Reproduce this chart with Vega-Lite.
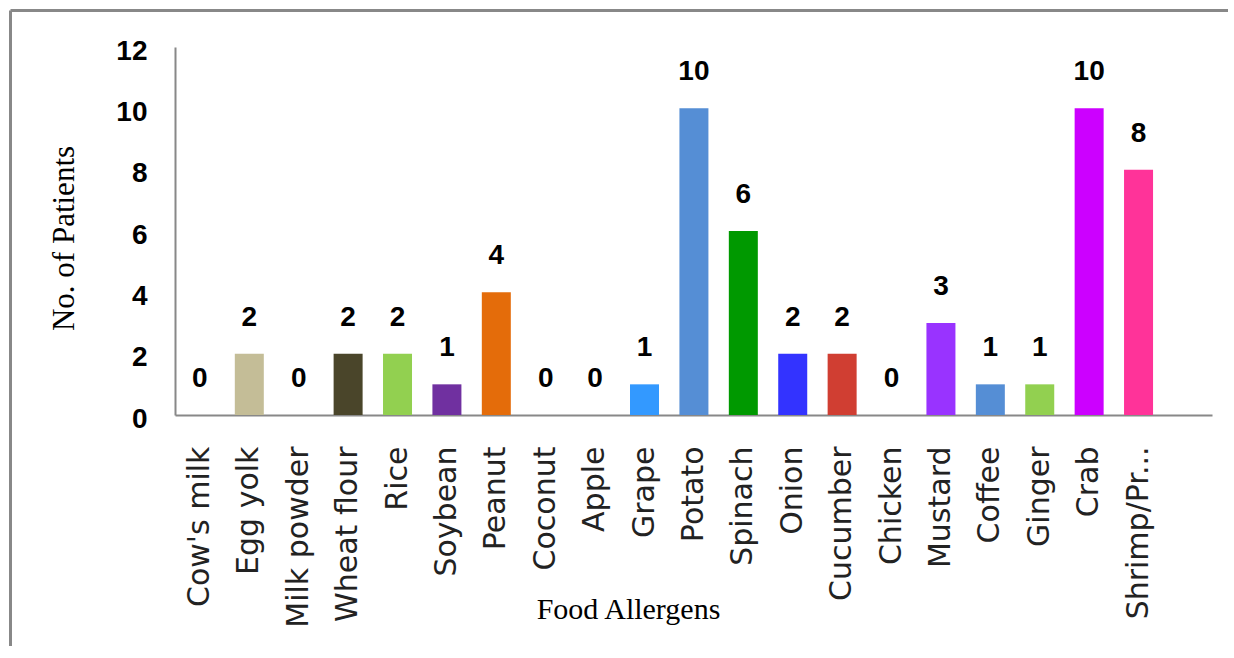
{
  "$schema": "https://vega.github.io/schema/vega-lite/v6.json",
  "width": 1218,
  "height": 636,
  "autosize": "none",
  "padding": {"left": 10, "top": 10, "right": 0, "bottom": 0},
  "background": "white",
  "config": {"view": {"stroke": null}},
  "resolve": {
    "scale": {"x": "independent", "y": "independent", "color": "independent"},
    "axis": {"x": "independent", "y": "independent"}
  },
  "layer": [
    {
      "data": {"values": [{"edge": 0}]},
      "mark": {"type": "point", "opacity": 0},
      "encoding": {
        "x": {
          "field": "edge",
          "type": "quantitative",
          "scale": {"domain": [0, 1], "range": [0, 1218]},
          "axis": {"orient": "top", "labels": false, "ticks": false, "grid": false, "title": null, "domainColor": "#888888", "domainWidth": 3}
        },
        "y": {
          "field": "edge",
          "type": "quantitative",
          "scale": {"domain": [0, 1], "range": [0, 636]},
          "axis": {"orient": "left", "labels": false, "ticks": false, "grid": false, "title": null, "domainColor": "#888888", "domainWidth": 3}
        }
      }
    },
    {
      "data": {
        "values": [
          {"food": "Cow's milk", "patients": 0},
          {"food": "Egg yolk", "patients": 2},
          {"food": "Milk powder", "patients": 0},
          {"food": "Wheat flour", "patients": 2},
          {"food": "Rice", "patients": 2},
          {"food": "Soybean", "patients": 1},
          {"food": "Peanut", "patients": 4},
          {"food": "Coconut", "patients": 0},
          {"food": "Apple", "patients": 0},
          {"food": "Grape", "patients": 1},
          {"food": "Potato", "patients": 10},
          {"food": "Spinach", "patients": 6},
          {"food": "Onion", "patients": 2},
          {"food": "Cucumber", "patients": 2},
          {"food": "Chicken", "patients": 0},
          {"food": "Mustard", "patients": 3},
          {"food": "Coffee", "patients": 1},
          {"food": "Ginger", "patients": 1},
          {"food": "Crab", "patients": 10},
          {"food": "Shrimp/Prawn", "patients": 8}
        ]
      },
      "encoding": {
        "x": {
          "field": "food",
          "type": "nominal",
          "sort": null,
          "scale": {"range": [165, 1202], "paddingInner": 0.413, "paddingOuter": 0.702, "align": 0.15},
          "axis": {
            "orient": "bottom",
            "offset": -231,
            "title": "Food Allergens",
            "titleFont": "Liberation Serif",
            "titleFontSize": 30,
            "titleFontWeight": "normal",
            "titleColor": "#000000",
            "titleAlign": "center",
            "titleBaseline": "alphabetic",
            "titleX": 618,
            "titleY": 203,
            "labelAngle": -90,
            "labelFont": "DejaVu Sans",
            "labelFontSize": 30,
            "labelColor": "#222222",
            "labelPadding": 31,
            "labelLimit": 400,
            "labelExpr": "datum.value == 'Shrimp/Prawn' ? 'Shrimp/Pr...' : datum.value",
            "ticks": false,
            "grid": false,
            "domainColor": "#888888",
            "domainWidth": 2
          }
        },
        "y": {
          "field": "patients",
          "type": "quantitative",
          "scale": {"domain": [0, 12], "range": [405, 37], "nice": false},
          "axis": {
            "orient": "left",
            "offset": -165,
            "values": [0, 2, 4, 6, 8, 10, 12],
            "title": "No. of Patients",
            "titleFont": "Liberation Serif",
            "titleFontSize": 31,
            "titleFontWeight": "normal",
            "titleColor": "#000000",
            "titleAngle": -90,
            "titleAlign": "center",
            "titleBaseline": "middle",
            "titleX": -111,
            "titleY": 228,
            "labelFont": "Liberation Sans",
            "labelFontSize": 28,
            "labelFontWeight": "bold",
            "labelColor": "#000000",
            "labelPadding": 28,
            "labelOffset": 4,
            "ticks": false,
            "grid": false,
            "domainColor": "#888888",
            "domainWidth": 2
          }
        }
      },
      "layer": [
        {
          "mark": {"type": "bar"},
          "encoding": {
            "color": {
              "field": "food",
              "type": "nominal",
              "legend": null,
              "scale": {
                "domain": ["Cow's milk", "Egg yolk", "Milk powder", "Wheat flour", "Rice", "Soybean", "Peanut", "Coconut", "Apple", "Grape", "Potato", "Spinach", "Onion", "Cucumber", "Chicken", "Mustard", "Coffee", "Ginger", "Crab", "Shrimp/Prawn"],
                "range": ["#4F81BD", "#C4BD97", "#4F81BD", "#4A452A", "#92D050", "#7030A0", "#E46C0A", "#4F81BD", "#4F81BD", "#3399FF", "#558ED5", "#009900", "#3333FF", "#D03E32", "#4F81BD", "#9933FF", "#558ED5", "#92D050", "#CC00FF", "#FF3399"]
              }
            }
          }
        },
        {
          "mark": {
            "type": "text",
            "font": "Liberation Sans",
            "fontSize": 28,
            "fontWeight": "bold",
            "color": "#000000",
            "baseline": "alphabetic",
            "align": "center",
            "dy": -28
          },
          "encoding": {"text": {"field": "patients", "type": "quantitative"}}
        }
      ]
    }
  ]
}
